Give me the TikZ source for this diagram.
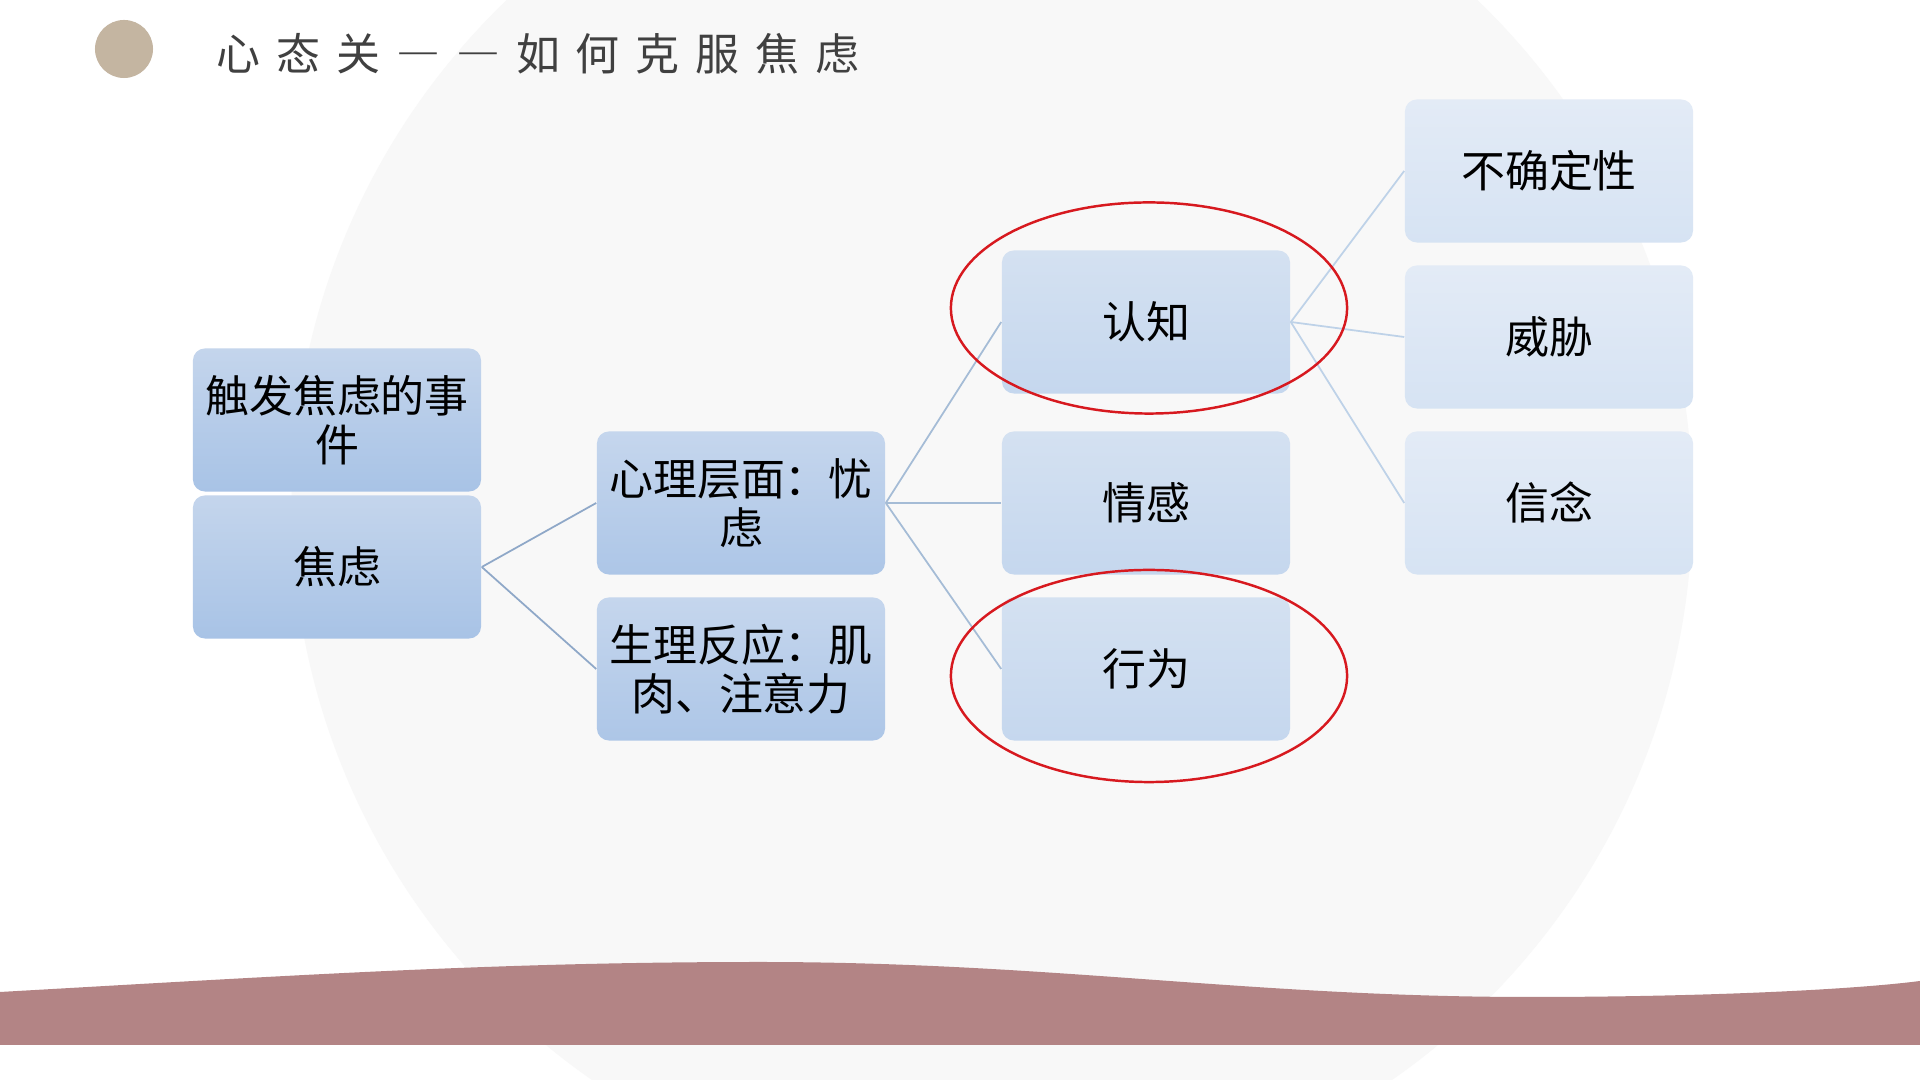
\documentclass[tikz,border=0pt]{standalone}
\usepackage{xcolor}
\usepackage{fontspec}
\usepackage{tikz}
\newfontfamily\cjk{Noto Sans CJK SC}
\newfontfamily\cjktitle[LetterSpace=36]{Noto Sans CJK SC}
\newfontfamily\cjkdash[RawFeature=+fwid]{Noto Sans CJK SC}
\newcommand\titlegap{\hspace{0.16cm}}
\definecolor{bgcircle}{HTML}{F8F8F8}
\definecolor{dotbeige}{HTML}{C4B5A1}
\definecolor{titlegray}{HTML}{404040}
\definecolor{waverose}{HTML}{B38485}
\definecolor{ringred}{HTML}{D7191F}

\begin{document}
\begin{tikzpicture}[x=0.01cm,y=-0.01cm,
  box/.style={rounded corners=0.12cm,minimum width=2.88cm,minimum height=1.43cm,
    inner sep=0pt,align=center,font=\cjk\fontsize{12.5pt}{13.9pt}\selectfont},
  lvla/.style={box,top color={rgb,255:red,196;green,213;blue,236},bottom color={rgb,255:red,168;green,195;blue,230}},
  lvlb/.style={box,top color={rgb,255:red,197;green,214;blue,237},bottom color={rgb,255:red,173;green,198;blue,231}},
  lvlc/.style={box,top color={rgb,255:red,212;green,225;blue,241},bottom color={rgb,255:red,197;green,215;blue,238}},
  lvld/.style={box,top color={rgb,255:red,227;green,235;blue,246},bottom color={rgb,255:red,214;green,227;blue,243}},
  conna/.style={line width=0.5pt,color={rgb,255:red,143;green,168;blue,200}},
  connb/.style={line width=0.5pt,color={rgb,255:red,165;green,188;blue,214}},
  connc/.style={line width=0.5pt,color={rgb,255:red,190;green,210;blue,232}},
  ring/.style={draw=ringred,line width=0.7pt}]
  \useasboundingbox (0,0) rectangle (1920,1080);
  % 背景
  \fill[white] (0,0) rectangle (1920,1080);
  \fill[bgcircle] (992,505) circle (7.0cm);
  \fill[waverose] (0,992) .. controls (300,975) and (500,962) .. (760,962)
    .. controls (1050,962) and (1250,997) .. (1530,997)
    .. controls (1700,997) and (1850,990) .. (1920,981)
    -- (1920,1045) -- (0,1045) -- cycle;
  % タイトル
  \fill[dotbeige] (124,49) circle (0.29cm);
  \node[anchor=west,inner sep=0pt,text=titlegray,font=\cjktitle\fontsize{12.5pt}{14pt}\selectfont] (title) at (216,54)
    {心态关\titlegap{\cjkdash —}\titlegap{\cjkdash —}\titlegap 如何克服焦虑};
  % ボックス
  \node[lvla] (chufa) at (337,420) {触发焦虑的事\\件};
  \node[lvla] (jiaolv) at (337,567) {焦虑};
  \node[lvlb] (xinli) at (741,503) {心理层面：忧\\虑};
  \node[lvlb] (shengli) at (741,669) {生理反应：肌\\肉、注意力};
  \node[lvlc] (renzhi) at (1146,322) {认知};
  \node[lvlc] (qinggan) at (1146,503) {情感};
  \node[lvlc] (xingwei) at (1146,669) {行为};
  \node[lvld] (buqueding) at (1549,171) {不确定性};
  \node[lvld] (weixie) at (1549,337) {威胁};
  \node[lvld] (xinnian) at (1549,503) {信念};
  % 接続線
  \foreach \t in {xinli,shengli} \draw[conna] (jiaolv.east) -- (\t.west);
  \foreach \t in {renzhi,qinggan,xingwei} \draw[connb] (xinli.east) -- (\t.west);
  \foreach \t in {buqueding,weixie,xinnian} \draw[connc] (renzhi.east) -- (\t.west);
  % 赤い楕円
  \draw[ring] (1149,308) ellipse [x radius=1.98cm,y radius=1.055cm];
  \draw[ring] (1149,676) ellipse [x radius=1.98cm,y radius=1.06cm];
\end{tikzpicture}
\end{document}
